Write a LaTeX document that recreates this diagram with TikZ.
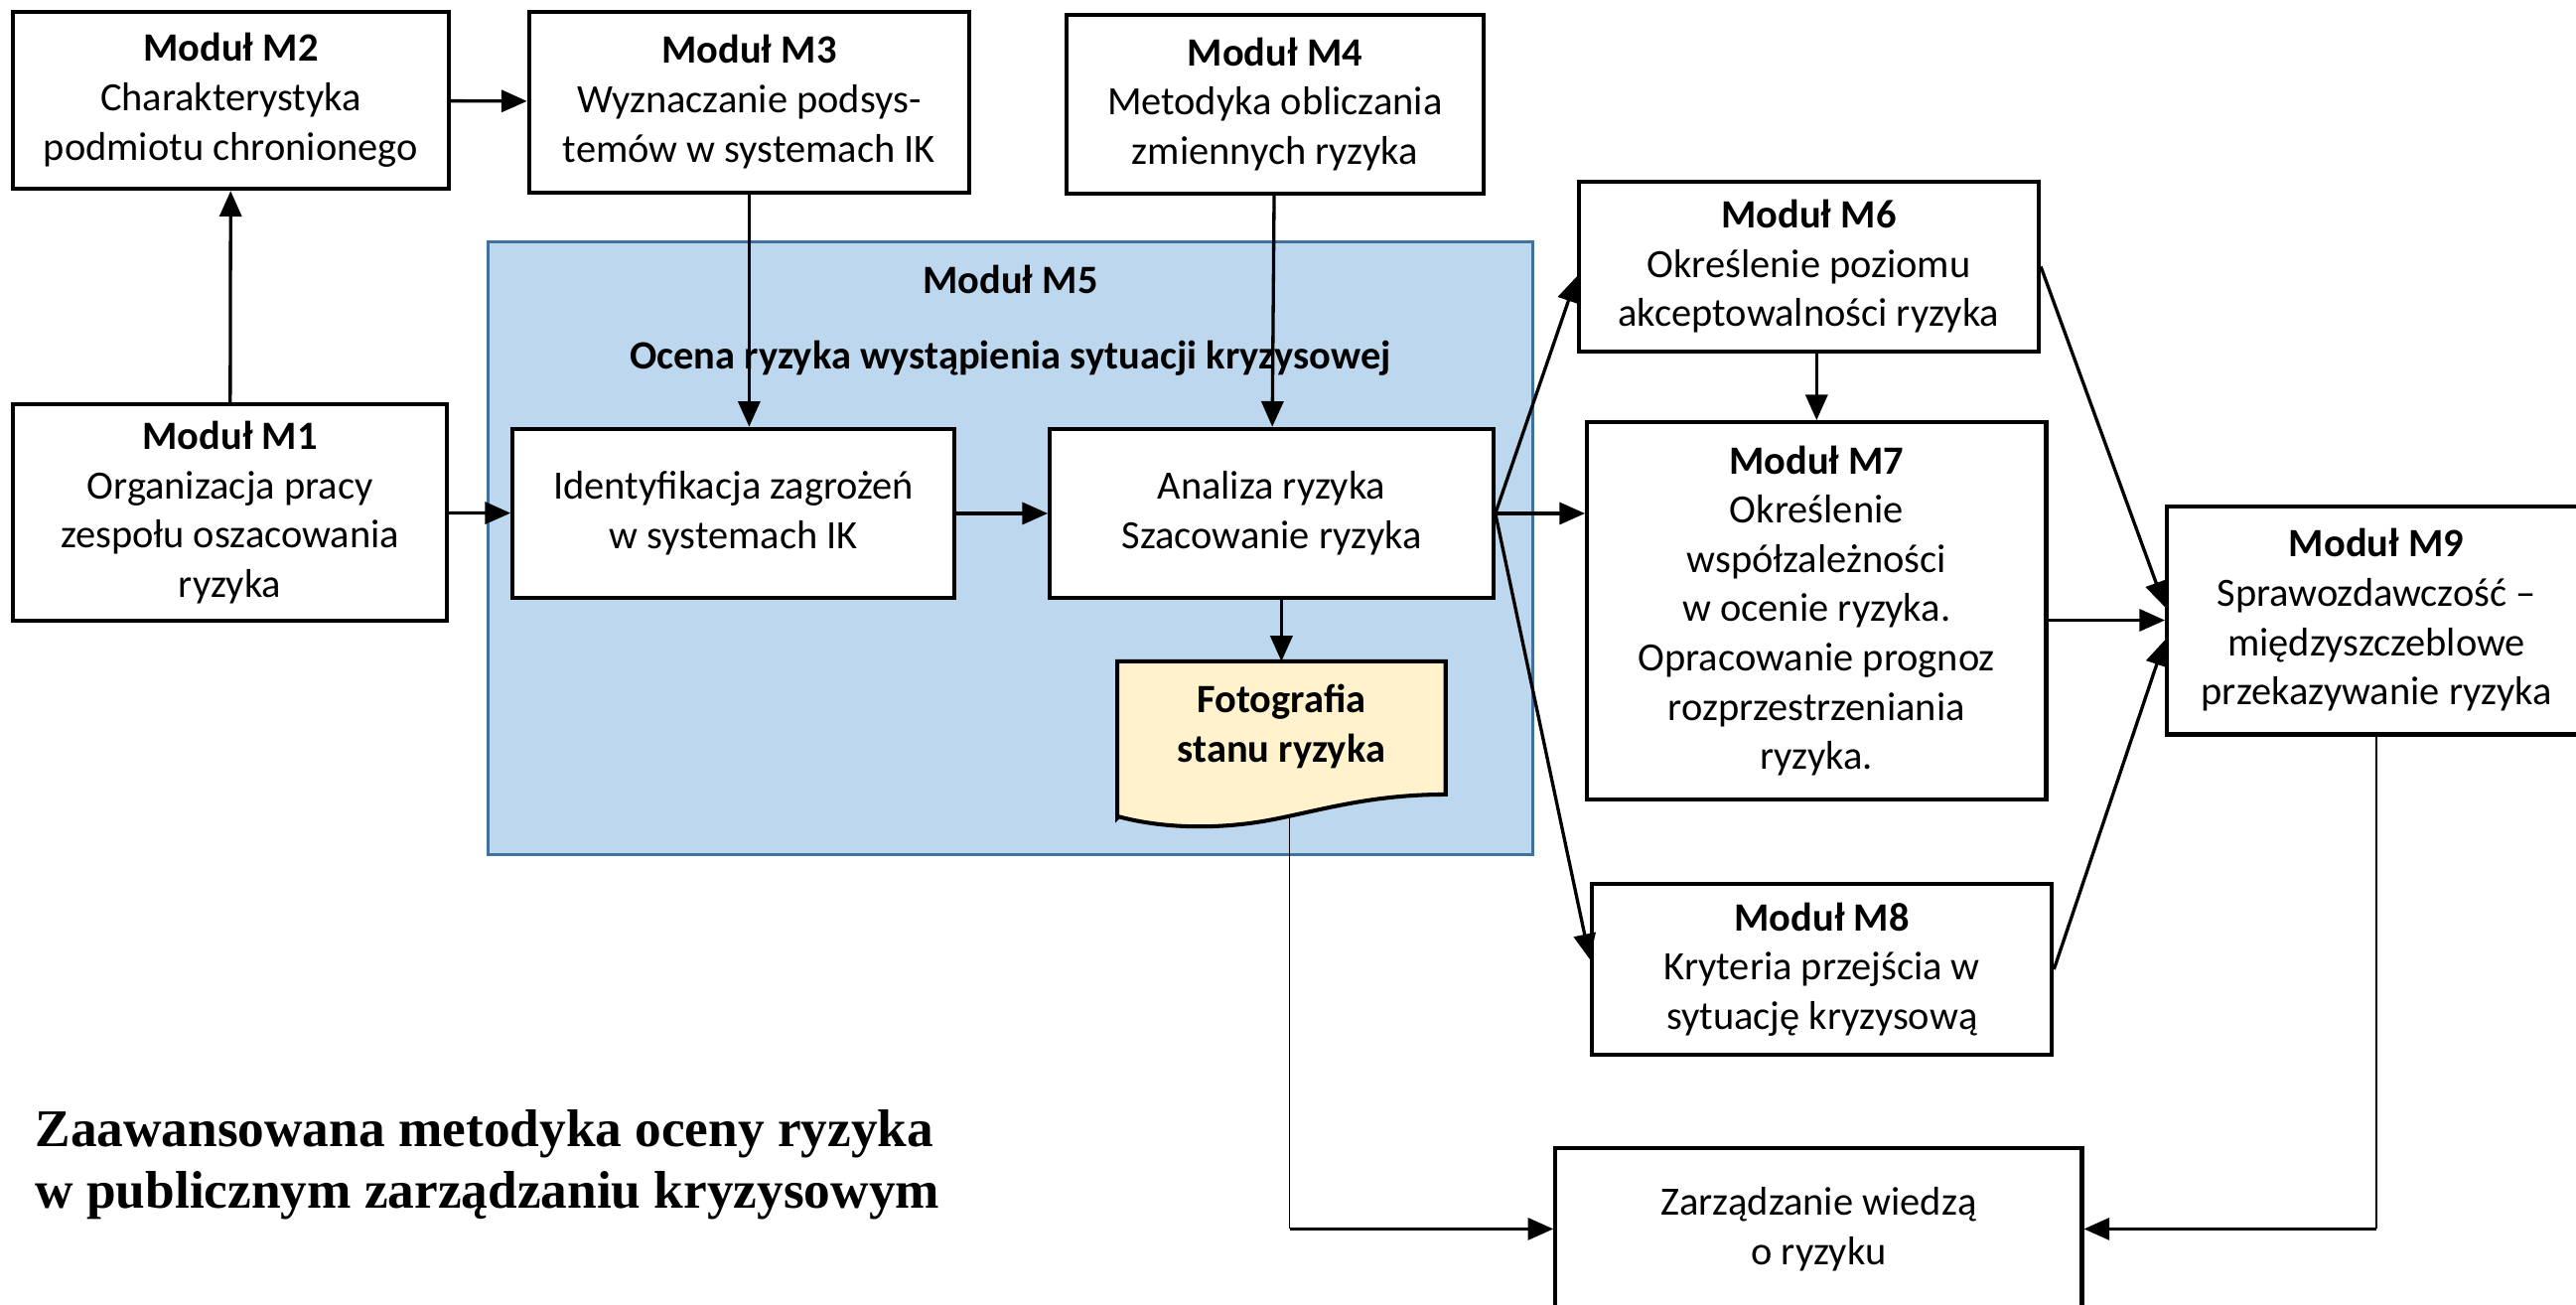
\documentclass[tikz,border=0pt]{standalone}
\usepackage{fontspec}
\setmainfont{Carlito}
\newfontfamily\titlefont{Liberation Serif}
\usetikzlibrary{calc, arrows.meta, backgrounds}

\definecolor{mfill}{HTML}{BDD7EE}
\definecolor{mline}{HTML}{41719C}
\definecolor{fotofill}{HTML}{FFF2CC}

\tikzset{
	box/.style={draw, line width=1.1pt, fill=white, align=center, inner sep=0pt, font=\fontsize{11}{13.5}\selectfont},
	bw/.style={minimum width=#1*0.45pt},
	bh/.style={minimum height=#1*0.45pt},
	conn/.style={line width=0.9pt, -{Triangle[length=7pt, width=6pt]}},
	feed/.style={line width=0.4pt},
}

\begin{document}
\begin{tikzpicture}[x=0.45pt, y=-0.45pt]
		\useasboundingbox (0,0) rectangle (1568,794);

		\begin{scope}[on background layer]
			\node [draw=mline, fill=mfill, line width=0.8pt, bw=636, bh=373] (m5) at (615,333.5) {};
		\end{scope}

		\node [font=\fontsize{11}{13.5}\selectfont\bfseries] (m5title) at (615,170) {Moduł M5};
		\node [font=\fontsize{11}{13.5}\selectfont\bfseries] (m5sub) at (615,218) {Ocena ryzyka wystąpienia sytuacji kryzysowej};

		\node [box, bw=265, bh=108] (m2) at (140.5,61) {\textbf{Moduł M2}\\Charakterystyka\\podmiotu chronionego};
		\node [box, bw=268, bh=110] (m3) at (456,62) {\textbf{Moduł M3}\\Wyznaczanie podsys-\\temów w systemach IK};
		\node [box, bw=254, bh=109] (m4) at (776,63.5) {\textbf{Moduł M4}\\Metodyka obliczania\\zmiennych ryzyka};
		\node [box, bw=264, bh=132] (m1) at (140,312) {\textbf{Moduł M1}\\Organizacja pracy\\zespołu oszacowania\\ryzyka};

		\node [box, bw=269, bh=103] (ident) at (446.5,312.5) {Identyfikacja zagrożeń\\w systemach IK};
		\node [box, bw=270, bh=103] (analiza) at (774,312.5) {Analiza ryzyka\\Szacowanie ryzyka};
		\node [align=center, inner sep=0pt, bw=199, bh=78, font=\fontsize{11}{13.5}\selectfont\bfseries] (foto) at (780,442) {Fotografia\\stanu ryzyka};

		\begin{scope}[on background layer]
			\draw [line width=1.1pt, fill=fotofill] ($ (foto.south west) + (0,16.5) $) -- (foto.north west) -- (foto.north east) -- ++(0,81)
				.. controls +(-44,0) and +(30,-6) .. ++(-104,15)
				.. controls +(-30,6) and +(30,8) .. ++(-95,-1.5) -- cycle;
		\end{scope}

		\node [box, bw=280, bh=103.5] (m6) at (1101,162.25) {\textbf{Moduł M6}\\Określenie poziomu\\akceptowalności ryzyka};
		\node [box, bw=279.5, bh=229.5] (m7) at (1105.75,371.75) {\textbf{Moduł M7}\\Określenie\\współzależności\\w ocenie ryzyka.\\Opracowanie prognoz\\rozprzestrzeniania\\ryzyka.};
		\node [box, bw=280, bh=104] (m8) at (1109,590) {\textbf{Moduł M8}\\Kryteria przejścia w\\sytuację kryzysową};
		\node [box, bw=255, bh=139] (m9) at (1446.5,377.5) {\textbf{Moduł M9}\\Sprawozdawczość –\\międzyszczeblowe\\przekazywanie ryzyka};
		\node [box, bw=320.5, bh=98] (zarz) at (1107,748) {Zarządzanie wiedzą\\o ryzyku};

		\node [anchor=west, align=left, inner sep=0pt, font=\titlefont\bfseries\fontsize{14.5}{16.7}\selectfont] (title) at (21,709) {Zaawansowana metodyka oceny ryzyka\\w publicznym zarządzaniu kryzysowym};

		\draw [conn] (m1) -- (m2);
		\draw [conn] (m2) -- (m3);
		\draw [conn] (m1) -- (ident);
		\draw [conn] (m3.south) -- (m3.south |- ident.north);
		\draw [conn] (m4) -- (analiza);
		\draw [conn] (ident) -- (analiza);
		\draw [conn] (analiza.south -| foto.north) -- (foto.north);

		\draw [conn] (analiza.east) -- ($ (m6.west) + (0,6) $);
		\draw [conn] (analiza.east) -- (m7.west |- analiza.east);
		\draw [conn] (analiza.east) -- ($ (m8.west) + (0,-6) $);
		\draw [conn] (m7.north |- m6.south) -- (m7.north);

		\draw [conn] (m6.east) -- ($ (m9.west) + (0,-8) $);
		\draw [conn] (m7.east |- m9.west) -- (m9.west);
		\draw [conn] (m8.east) -- ($ (m9.west) + (0,12) $);

		\coordinate (fotoout) at ($ (foto.south) + (5,16) $);
		\coordinate (fotobend) at (fotoout |- zarz.west);
		\draw [feed] (fotoout) -- (fotobend);
		\draw [conn] (fotobend) -- (zarz.west);

		\coordinate (m9bend) at (m9.south |- zarz.east);
		\draw [feed] (m9.south) -- (m9bend);
		\draw [conn] (m9bend) -- (zarz.east);
	\end{tikzpicture}
\end{document}
